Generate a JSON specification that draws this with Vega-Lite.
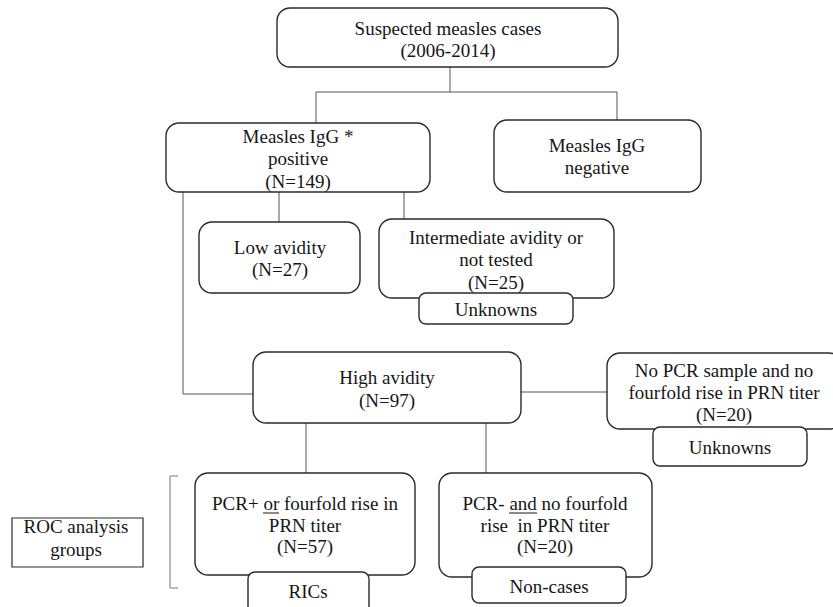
{
  "$schema": "https://vega.github.io/schema/vega-lite/v6.json",
  "autosize": {"type": "fit", "contains": "padding"},
  "width": 833,
  "height": 607,
  "padding": 0,
  "background": "white",
  "config": {"view": {"stroke": null}},
  "datasets": {
    "boxes": [
      {"name": "Suspected", "x1": 277, "x2": 618, "y1": 8, "y2": 67, "shape": "round"},
      {"name": "IgG positive", "x1": 166, "x2": 430, "y1": 123, "y2": 192, "shape": "round"},
      {"name": "IgG negative", "x1": 494, "x2": 701, "y1": 120, "y2": 192, "shape": "round"},
      {"name": "Low avidity", "x1": 199, "x2": 360, "y1": 222, "y2": 293, "shape": "round"},
      {"name": "Intermediate", "x1": 379, "x2": 614, "y1": 219, "y2": 298, "shape": "round"},
      {"name": "High avidity", "x1": 253, "x2": 521, "y1": 352, "y2": 423, "shape": "round"},
      {"name": "No PCR", "x1": 607, "x2": 842, "y1": 353, "y2": 429, "shape": "round"},
      {"name": "PCR+", "x1": 195, "x2": 415, "y1": 473, "y2": 575, "shape": "round"},
      {"name": "PCR-", "x1": 439, "x2": 652, "y1": 473, "y2": 577, "shape": "round"},
      {"name": "Unknowns 1", "x1": 419, "x2": 573, "y1": 293, "y2": 324, "shape": "small"},
      {"name": "Unknowns 2", "x1": 653, "x2": 807, "y1": 427, "y2": 466, "shape": "small"},
      {"name": "RICs", "x1": 248, "x2": 369, "y1": 572, "y2": 614, "shape": "small"},
      {"name": "Non-cases", "x1": 472, "x2": 626, "y1": 567, "y2": 603, "shape": "small"},
      {"name": "ROC", "x1": 12, "x2": 143, "y1": 518, "y2": 567, "shape": "square"}
    ],
    "links": [
      {"x1": 450, "y1": 67, "x2": 450, "y2": 92},
      {"x1": 316, "y1": 92, "x2": 617, "y2": 92},
      {"x1": 316, "y1": 92, "x2": 316, "y2": 123},
      {"x1": 617, "y1": 92, "x2": 617, "y2": 120},
      {"x1": 183, "y1": 192, "x2": 183, "y2": 394},
      {"x1": 183, "y1": 394, "x2": 253, "y2": 394},
      {"x1": 279, "y1": 192, "x2": 279, "y2": 222},
      {"x1": 404, "y1": 192, "x2": 404, "y2": 219},
      {"x1": 521, "y1": 392, "x2": 607, "y2": 392},
      {"x1": 306, "y1": 423, "x2": 306, "y2": 473},
      {"x1": 486, "y1": 423, "x2": 486, "y2": 473}
    ],
    "bracket": [
      {"x1": 170, "y1": 476, "x2": 170, "y2": 588},
      {"x1": 170, "y1": 476, "x2": 178, "y2": 476},
      {"x1": 170, "y1": 588, "x2": 178, "y2": 588}
    ],
    "underlines": [
      {"x1": 263, "y1": 513, "x2": 279, "y2": 513},
      {"x1": 509, "y1": 513, "x2": 537, "y2": 513}
    ],
    "labels": [
      {"tx": 448, "ty": 29, "label": "Suspected measles cases"},
      {"tx": 448, "ty": 51, "label": "(2006-2014)"},
      {"tx": 298, "ty": 137, "label": "Measles IgG *"},
      {"tx": 298, "ty": 159, "label": "positive"},
      {"tx": 298, "ty": 182, "label": "(N=149)"},
      {"tx": 597, "ty": 146, "label": "Measles IgG"},
      {"tx": 597, "ty": 168, "label": "negative"},
      {"tx": 280, "ty": 248, "label": "Low avidity"},
      {"tx": 280, "ty": 270, "label": "(N=27)"},
      {"tx": 496, "ty": 238, "label": "Intermediate avidity or"},
      {"tx": 496, "ty": 260, "label": "not tested"},
      {"tx": 496, "ty": 283, "label": "(N=25)"},
      {"tx": 496, "ty": 310, "label": "Unknowns"},
      {"tx": 387, "ty": 378, "label": "High avidity"},
      {"tx": 387, "ty": 401, "label": "(N=97)"},
      {"tx": 724, "ty": 371, "label": "No PCR sample and no"},
      {"tx": 724, "ty": 393, "label": "fourfold rise in PRN titer"},
      {"tx": 724, "ty": 415, "label": "(N=20)"},
      {"tx": 730, "ty": 448, "label": "Unknowns"},
      {"tx": 305, "ty": 504, "label": "PCR+ or fourfold rise in"},
      {"tx": 305, "ty": 525.5, "label": "PRN titer"},
      {"tx": 305, "ty": 547, "label": "(N=57)"},
      {"tx": 545, "ty": 504, "label": "PCR- and no fourfold"},
      {"tx": 545, "ty": 525.5, "label": "rise \u00a0in PRN titer"},
      {"tx": 545, "ty": 547, "label": "(N=20)"},
      {"tx": 308, "ty": 592, "label": "RICs"},
      {"tx": 549, "ty": 587, "label": "Non-cases"},
      {"tx": 76, "ty": 527, "label": "ROC analysis"},
      {"tx": 76, "ty": 550, "label": "groups"}
    ]
  },
  "layer": [
    {
      "data": {"name": "links"},
      "mark": {"type": "rule", "color": "#555555", "strokeWidth": 1},
      "encoding": {
        "x": {"field": "x1", "type": "quantitative", "scale": {"domain": [0, 833], "nice": false, "zero": false}, "axis": null},
        "y": {"field": "y1", "type": "quantitative", "scale": {"domain": [0, 607], "nice": false, "zero": false, "reverse": true}, "axis": null},
        "x2": {"field": "x2"},
        "y2": {"field": "y2"}
      }
    },
    {
      "data": {"name": "bracket"},
      "mark": {"type": "rule", "color": "#8c8c8c", "strokeWidth": 1.2},
      "encoding": {
        "x": {"field": "x1", "type": "quantitative"},
        "y": {"field": "y1", "type": "quantitative"},
        "x2": {"field": "x2"},
        "y2": {"field": "y2"}
      }
    },
    {
      "data": {"name": "boxes"},
      "transform": [{"filter": "datum.shape === 'round'"}],
      "mark": {"type": "rect", "cornerRadius": 13, "fill": "#7a7a7a", "xOffset": 1.5, "yOffset": 1.5, "clip": true},
      "encoding": {
        "x": {"field": "x1", "type": "quantitative"},
        "x2": {"field": "x2"},
        "y": {"field": "y1", "type": "quantitative"},
        "y2": {"field": "y2"}
      }
    },
    {
      "data": {"name": "boxes"},
      "transform": [{"filter": "datum.shape === 'round'"}],
      "mark": {"type": "rect", "cornerRadius": 13, "fill": "white", "stroke": "#2a2a2a", "strokeWidth": 1.4, "clip": true},
      "encoding": {
        "x": {"field": "x1", "type": "quantitative"},
        "x2": {"field": "x2"},
        "y": {"field": "y1", "type": "quantitative"},
        "y2": {"field": "y2"}
      }
    },
    {
      "data": {"name": "boxes"},
      "transform": [{"filter": "datum.shape === 'square'"}],
      "mark": {"type": "rect", "cornerRadius": 0, "fill": "#7a7a7a", "xOffset": 1.5, "yOffset": 1.5},
      "encoding": {
        "x": {"field": "x1", "type": "quantitative"},
        "x2": {"field": "x2"},
        "y": {"field": "y1", "type": "quantitative"},
        "y2": {"field": "y2"}
      }
    },
    {
      "data": {"name": "boxes"},
      "transform": [{"filter": "datum.shape === 'square'"}],
      "mark": {"type": "rect", "cornerRadius": 0, "fill": "white", "stroke": "#2a2a2a", "strokeWidth": 1.2},
      "encoding": {
        "x": {"field": "x1", "type": "quantitative"},
        "x2": {"field": "x2"},
        "y": {"field": "y1", "type": "quantitative"},
        "y2": {"field": "y2"}
      }
    },
    {
      "data": {"name": "boxes"},
      "transform": [{"filter": "datum.shape === 'small'"}],
      "mark": {"type": "rect", "cornerRadius": 7, "fill": "#7a7a7a", "xOffset": 1.5, "yOffset": 1.5, "clip": true},
      "encoding": {
        "x": {"field": "x1", "type": "quantitative"},
        "x2": {"field": "x2"},
        "y": {"field": "y1", "type": "quantitative"},
        "y2": {"field": "y2"}
      }
    },
    {
      "data": {"name": "boxes"},
      "transform": [{"filter": "datum.shape === 'small'"}],
      "mark": {"type": "rect", "cornerRadius": 7, "fill": "white", "stroke": "#2a2a2a", "strokeWidth": 1.4, "clip": true},
      "encoding": {
        "x": {"field": "x1", "type": "quantitative"},
        "x2": {"field": "x2"},
        "y": {"field": "y1", "type": "quantitative"},
        "y2": {"field": "y2"}
      }
    },
    {
      "data": {"name": "labels"},
      "mark": {"type": "text", "font": "Liberation Serif", "fontSize": 19, "color": "#161616", "align": "center", "baseline": "middle"},
      "encoding": {
        "x": {"field": "tx", "type": "quantitative"},
        "y": {"field": "ty", "type": "quantitative"},
        "text": {"field": "label"}
      }
    },
    {
      "data": {"name": "underlines"},
      "mark": {"type": "rule", "color": "#161616", "strokeWidth": 1},
      "encoding": {
        "x": {"field": "x1", "type": "quantitative"},
        "y": {"field": "y1", "type": "quantitative"},
        "x2": {"field": "x2"},
        "y2": {"field": "y2"}
      }
    }
  ]
}
